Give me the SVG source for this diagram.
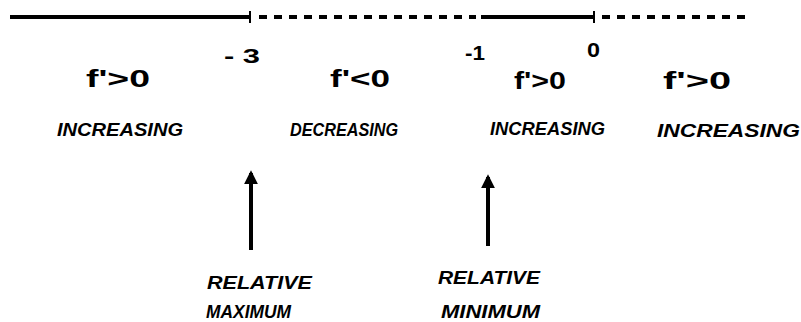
<svg xmlns="http://www.w3.org/2000/svg" width="801" height="322" viewBox="0 0 801 322">
<style>
.t{font-family:"Liberation Sans",Arial,sans-serif;font-weight:bold;fill:#000}
.w{font-size:19px;font-style:italic}
.f{font-size:24px}
.n{font-size:20px}
.solid{stroke:#000;stroke-width:4;fill:none}
.dash{stroke:#000;stroke-width:4;stroke-dasharray:8 7;fill:none}
.arr{stroke:#000;stroke-width:4;fill:none}
</style>
<defs>
<marker id="ah" viewBox="0 0 10 10" refX="8" refY="5" markerWidth="3.5" markerHeight="3.5" orient="auto">
<path d="M0,0 L10,5 L0,10 z" fill="#000"/>
</marker>
</defs>
<rect width="801" height="322" fill="#fff"/>
<g id="axis">
<line class="solid" x1="10" y1="17" x2="250" y2="17"/>
<line x1="250" y1="11" x2="250" y2="23" stroke="#000" stroke-width="2"/>
<line class="dash" x1="259" y1="17" x2="476" y2="17"/>
<line class="solid" x1="481" y1="17" x2="595" y2="17"/>
<line x1="594" y1="11" x2="594" y2="23" stroke="#000" stroke-width="2"/>
<line class="dash" x1="602" y1="17" x2="752" y2="17"/>
</g>
<g id="points">
<text class="t n" x="224" y="63" textLength="36" lengthAdjust="spacingAndGlyphs">- 3</text>
<text class="t n" x="465" y="60" textLength="20" lengthAdjust="spacingAndGlyphs">-1</text>
<text class="t n" x="587" y="57" textLength="13" lengthAdjust="spacingAndGlyphs">0</text>
</g>
<g id="interval1">
<text class="t f" x="86" y="87" textLength="64" lengthAdjust="spacingAndGlyphs">f'&gt;0</text>
<text class="t w" x="57" y="136" textLength="126" lengthAdjust="spacingAndGlyphs">INCREASING</text>
</g>
<g id="interval2">
<text class="t f" x="330" y="87" textLength="60" lengthAdjust="spacingAndGlyphs">f'&lt;0</text>
<text class="t w" x="290" y="136" textLength="108" lengthAdjust="spacingAndGlyphs">DECREASING</text>
</g>
<g id="interval3">
<text class="t f" x="514" y="89" textLength="52" lengthAdjust="spacingAndGlyphs">f'&gt;0</text>
<text class="t w" x="490" y="135" textLength="115" lengthAdjust="spacingAndGlyphs">INCREASING</text>
</g>
<g id="interval4">
<text class="t f" x="663" y="89" textLength="68" lengthAdjust="spacingAndGlyphs">f'&gt;0</text>
<text class="t w" x="657" y="137" textLength="143" lengthAdjust="spacingAndGlyphs">INCREASING</text>
</g>
<g id="connectors">
<line class="arr" x1="251" y1="250" x2="251" y2="173" marker-end="url(#ah)"/>
<line class="arr" x1="488" y1="246" x2="488" y2="177" marker-end="url(#ah)"/>
</g>
<g id="max">
<text class="t w" x="207" y="289" textLength="105" lengthAdjust="spacingAndGlyphs">RELATIVE</text>
<text class="t w" x="206" y="318" textLength="85" lengthAdjust="spacingAndGlyphs">MAXIMUM</text>
</g>
<g id="min">
<text class="t w" x="438" y="284" textLength="102" lengthAdjust="spacingAndGlyphs">RELATIVE</text>
<text class="t w" x="441" y="318" textLength="99" lengthAdjust="spacingAndGlyphs">MINIMUM</text>
</g>
</svg>
